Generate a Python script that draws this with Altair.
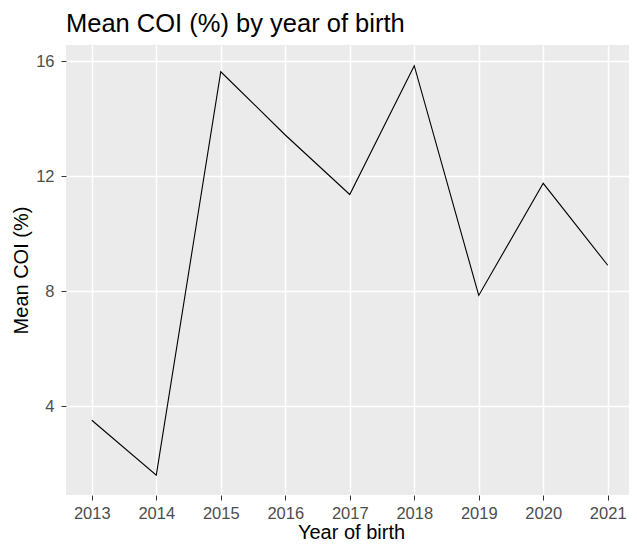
import altair as alt
import pandas as pd

years = [2013, 2014, 2015, 2016, 2017, 2018, 2019, 2020, 2021]
mean_coi = [3.52, 1.61, 15.64, 13.44, 11.37, 15.85, 7.86, 11.76, 8.91]
y_ticks = [4, 8, 12, 16]

df = pd.DataFrame({"year": years, "coi": mean_coi})

FONT = "Liberation Sans"

chart = (
    alt.Chart(df)
    .mark_line(color="black", strokeWidth=1.1)
    .encode(
        x=alt.X(
            "year:Q",
            scale=alt.Scale(domain=[2012.6, 2021.33], nice=False, zero=False),
            axis=alt.Axis(
                values=years,
                format="d",
                title="Year of birth",
                titleX=285,
                titlePadding=1,
                labelPadding=5,
            ),
        ),
        y=alt.Y(
            "coi:Q",
            scale=alt.Scale(domain=[0.92, 16.57], nice=False, zero=False),
            axis=alt.Axis(
                values=y_ticks,
                title="Mean COI (%)",
                titlePadding=4,
                labelPadding=7,
            ),
        ),
    )
    .properties(
        width=563,
        height=450,
        autosize="none",
        padding={"left": 58, "top": 37, "right": 0, "bottom": 47},
        background="white",
        title=alt.TitleParams(
            "Mean COI (%) by year of birth",
            anchor="start",
            frame="group",
            font=FONT,
            fontSize=25.5,
            fontWeight="normal",
            color="black",
            offset=8,
        ),
    )
    .configure_view(fill="#EBEBEB", stroke=None)
    .configure_axis(
        domain=False,
        grid=True,
        gridColor="white",
        gridWidth=1.5,
        tickColor="#333333",
        tickSize=5,
        tickWidth=1,
        labelFont=FONT,
        labelFontSize=16.5,
        labelColor="#4D4D4D",
        titleFont=FONT,
        titleFontSize=20,
        titleFontWeight="normal",
        titleColor="black",
    )
)

chart.save("out.html", embed_options={"renderer": "svg", "actions": False})
